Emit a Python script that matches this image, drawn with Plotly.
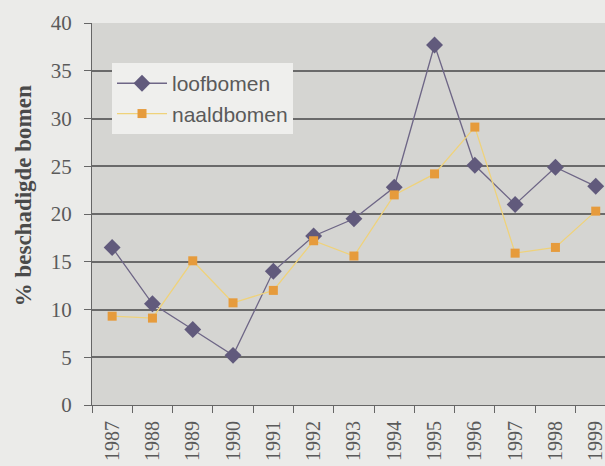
import plotly.graph_objects as go

# data
years = ['1987', '1988', '1989', '1990', '1991', '1992', '1993',
         '1994', '1995', '1996', '1997', '1998', '1999']
loofbomen = [16.5, 10.6, 7.9, 5.2, 14.0, 17.7, 19.5, 22.8, 37.7, 25.1, 21.0, 24.9, 22.9]
naaldbomen = [9.3, 9.1, 15.1, 10.7, 12.0, 17.2, 15.6, 22.0, 24.2, 29.1, 15.9, 16.5, 20.3]
y_ticks = [0, 5, 10, 15, 20, 25, 30, 35, 40]

serif = 'Liberation Serif, Times New Roman, serif'

fig = go.Figure()

fig.add_trace(go.Scatter(
    x=years, y=loofbomen, name='loofbomen', mode='lines+markers',
    line=dict(color='#6e6686', width=1.3),
    marker=dict(symbol='diamond', size=13, color='#615a7c'),
))
fig.add_trace(go.Scatter(
    x=years, y=naaldbomen, name='naaldbomen', mode='lines+markers',
    line=dict(color='#efd27a', width=1.3),
    marker=dict(symbol='square', size=9, color='#e69b3c'),
))

fig.update_layout(
    width=605, height=466,
    margin=dict(l=92, r=0, t=23, b=61),
    paper_bgcolor='#ebebe9',
    plot_bgcolor='#d5d5d2',
    showlegend=True,
    legend=dict(
        x=0.039, y=0.895, xanchor='left', yanchor='top',
        bgcolor='#efefed',
        font=dict(family='Liberation Sans, Arial, sans-serif', size=21, color='#5a5a5a'),
        tracegroupgap=0, itemwidth=50,
    ),
)

# y-axis title, placed as in the scan (a bit below the plot centre)
fig.add_annotation(
    text='% beschadigde bomen', textangle=-90,
    xref='paper', yref='paper', x=-0.134, y=0.547,
    xanchor='center', yanchor='middle', showarrow=False,
    font=dict(family=serif, size=23, color='#4a4a4a', weight='bold'),
)

fig.update_xaxes(
    type='category', range=[-0.5, 12.23],
    tickson='boundaries', ticks='outside', ticklen=7, tickcolor='#666',
    tickangle=-90, showgrid=False,
    showline=True, linecolor='#666', linewidth=1,
    tickfont=dict(family=serif, size=20, color='#5a5a5a'),
    ticklabelstandoff=7,
    automargin=False,
)
fig.update_yaxes(
    range=[0, 40], tickvals=y_ticks,
    ticks='outside', ticklen=7, tickcolor='#666',
    showgrid=True, gridcolor='#6a6a6a', gridwidth=1.5,
    showline=True, linecolor='#666', linewidth=1,
    zeroline=False,
    tickfont=dict(family=serif, size=21, color='#5a5a5a'),
    ticklabelstandoff=8,
    automargin=False,
)

fig.write_html(
    'out.html',
    config={'displayModeBar': False},
    post_script="document.body.style.margin='0';document.body.style.overflow='hidden';",
)
